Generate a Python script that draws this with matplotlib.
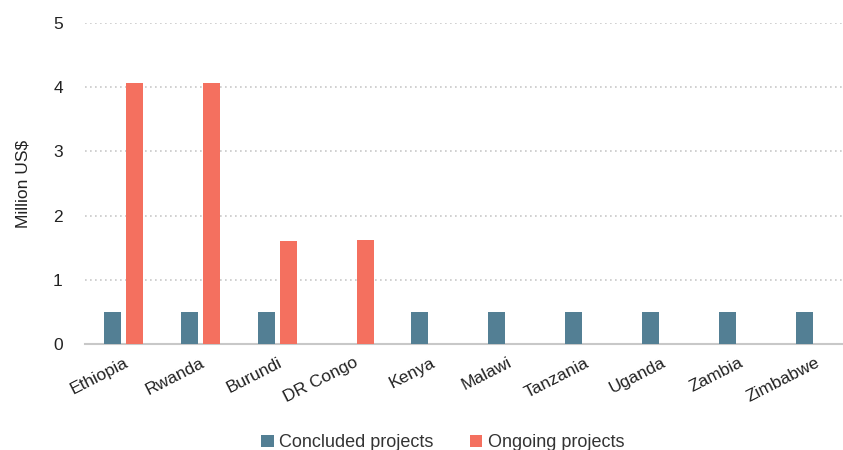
import matplotlib
matplotlib.use('Agg')
import matplotlib.pyplot as plt
import numpy as np

countries = ['Ethiopia', 'Rwanda', 'Burundi', 'DR Congo', 'Kenya', 'Malawi',
             'Tanzania', 'Uganda', 'Zambia', 'Zimbabwe']
concluded = [0.5, 0.5, 0.5, 0, 0.5, 0.5, 0.5, 0.5, 0.5, 0.5]
ongoing = [4.07, 4.07, 1.6, 1.62, 0, 0, 0, 0, 0, 0]

plt.rcParams['font.family'] = ['Liberation Sans', 'DejaVu Sans']

fig = plt.figure(figsize=(8.43, 4.5), dpi=100)
ax = fig.add_axes([85/843, 1 - 344/450, 1 - 85/843, 321/450])

x = np.arange(len(countries))
w = 0.22
off = 0.143
ax.bar(x - off, concluded, w, color='#537f94', label='Concluded projects', zorder=3)
ax.bar(x + off, ongoing, w, color='#f4705f', label='Ongoing projects', zorder=3)

ax.set_xlim(-0.5, 9.36)
ax.set_ylim(0, 5)
ax.set_yticks([0, 1, 2, 3, 4, 5])
ax.yaxis.grid(True, linestyle=(0, (1, 2)), color='#c8c8c8', linewidth=1.2, zorder=0)
for s in ['top', 'right', 'left']:
    ax.spines[s].set_visible(False)
ax.spines['bottom'].set_color('#c8c8c8')
ax.spines['bottom'].set_linewidth(1.5)
ax.tick_params(axis='both', length=0, labelsize=12.5, colors='#222222')
ax.tick_params(axis='y', pad=16)
ax.tick_params(axis='x', pad=8)

ax.set_xticks(x)
ax.set_xticklabels(countries, rotation=27, ha='right', rotation_mode='anchor')
ax.set_ylabel('Million US$', fontsize=12.5, color='#222222', labelpad=16)

ax.legend(loc='lower center', bbox_to_anchor=(0.472, -0.385), ncol=2, frameon=False,
          fontsize=13, handlelength=0.7, handleheight=0.7, handletextpad=0.3,
          columnspacing=2.0, labelcolor='#333333')

fig.savefig('out.png', dpi=100)
